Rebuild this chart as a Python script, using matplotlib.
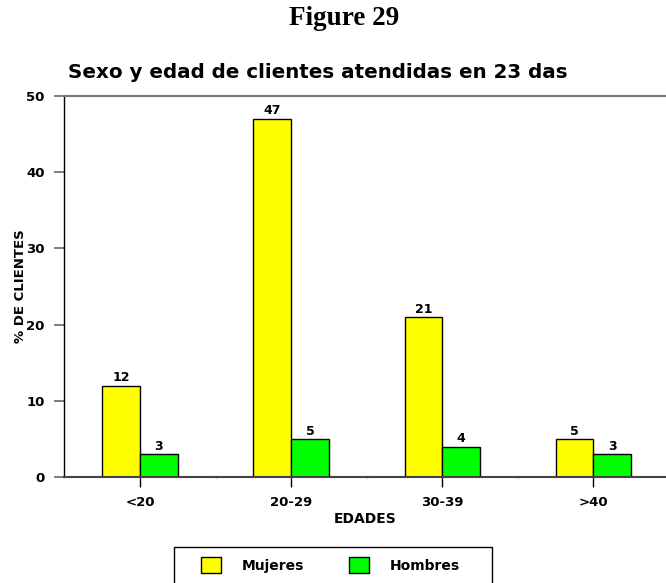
import numpy as np
import matplotlib
matplotlib.use("Agg")
import matplotlib.pyplot as plt
from matplotlib.patches import Rectangle

plt.rcParams['font.family'] = ['DejaVu Sans']
plt.rcParams['font.weight'] = 'bold'

# data
edades = ["<20", "20-29", "30-39", ">40"]
mujeres = [12, 47, 21, 5]
hombres = [3, 5, 4, 3]

W, H = 666, 583
fig = plt.figure(figsize=(W / 100, H / 100), dpi=100)
ax = fig.add_axes([64 / W, (H - 477) / H, 1 - 64 / W, (477 - 96) / H])

x = np.arange(len(edades))
w = 0.25
b1 = ax.bar(x - w / 2, mujeres, w, color="#ffff00", edgecolor="black", linewidth=1, label="Mujeres")
b2 = ax.bar(x + w / 2, hombres, w, color="#00ff00", edgecolor="black", linewidth=1, label="Hombres")
for bars in (b1, b2):
    ax.bar_label(bars, padding=1, fontsize=9, fontweight="bold")

ax.set_xlim(-0.503, 3.48)
ax.set_ylim(0, 50)
ax.set_yticks([0, 10, 20, 30, 40, 50])
ax.set_xticks(x)
ax.set_xticklabels(edades)
ax.set_xticks([0.5, 1.5, 2.5], minor=True)

ax.spines["right"].set_visible(False)
ax.spines["top"].set_color("#777777")
ax.spines["top"].set_linewidth(1.5)
ax.spines["bottom"].set_color("#444444")
ax.spines["bottom"].set_linewidth(1.5)
ax.spines["left"].set_color("black")
ax.spines["left"].set_linewidth(1)

ax.tick_params(axis="y", length=7, width=1.2, color="#666666", pad=7, labelsize=9.5)
ax.tick_params(axis="x", which="major", length=7, width=1, color="black", pad=7, labelsize=9.5)
ax.tick_params(axis="x", which="minor", length=2, width=1, color="#888888", direction="inout")

ax.set_xlabel("EDADES", fontsize=10, fontweight="bold", labelpad=2)
ax.set_ylabel("% DE CLIENTES", fontsize=9.5, fontweight="bold", labelpad=0)
ax.yaxis.set_label_coords(-0.062, 0.5)

fig.text(344 / W, 1 - 25 / H, "Figure 29", ha="center", va="baseline",
         fontsize=19.5, fontweight="bold", family=["Liberation Serif", "DejaVu Serif"])
fig.text(68 / W, 1 - 78 / H, "Sexo y edad de clientes atendidas en 23 das", ha="left", va="baseline",
         fontsize=14.3, fontweight="bold")

# legend box, cut off by the bottom of the figure as in the reference
fig.patches.append(Rectangle((174 / W, -0.05), (492 - 174) / W, 0.05 + (H - 547) / H,
                             transform=fig.transFigure, facecolor="none",
                             edgecolor="black", linewidth=1))
leg = fig.legend(handles=[b1, b2], loc="upper left",
                 bbox_to_anchor=(201 / W, 1 - 557 / H), ncol=2, frameon=False,
                 prop={"weight": "bold", "size": 10}, handlelength=1.44, handleheight=1.44,
                 borderpad=0, handletextpad=1.5, columnspacing=3.2, borderaxespad=0)

fig.savefig("out.png", dpi=100)
